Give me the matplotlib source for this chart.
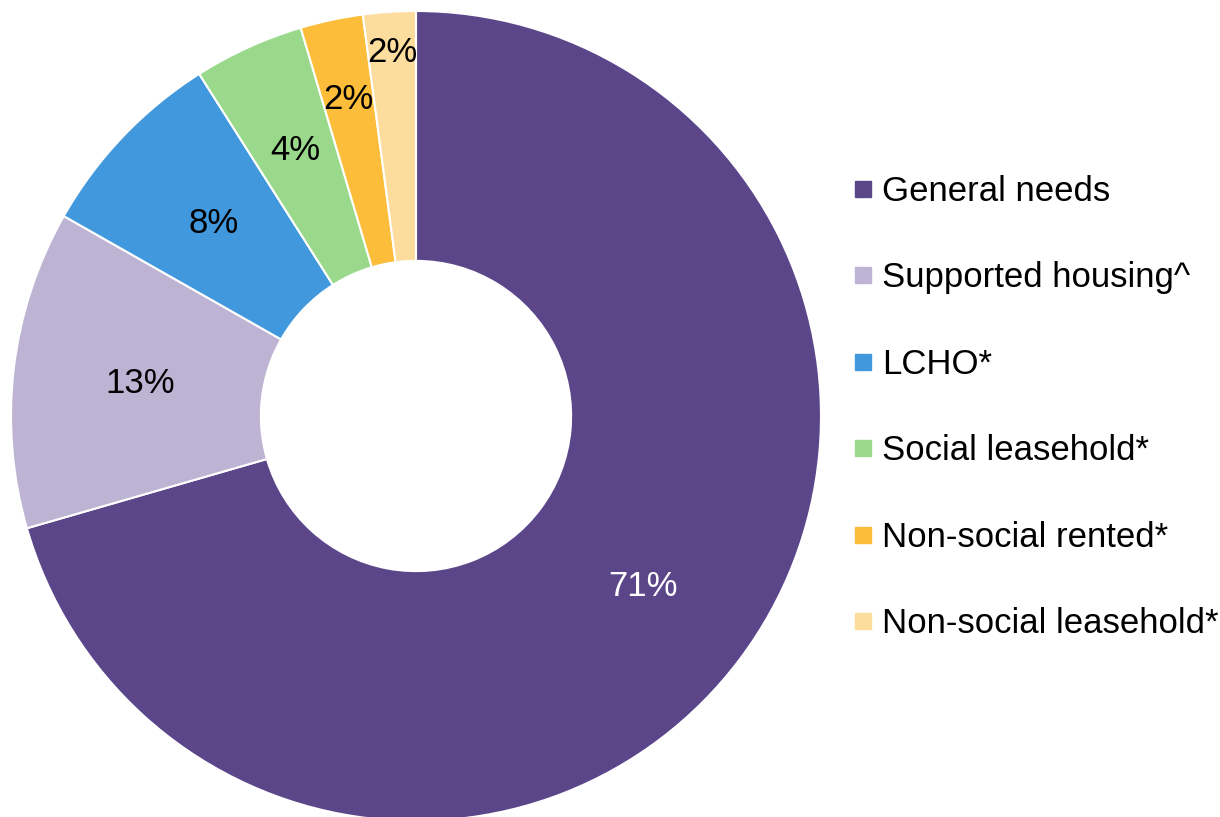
import numpy as np
import matplotlib.pyplot as plt
from matplotlib.lines import Line2D

plt.rcParams['font.family'] = ['Liberation Sans', 'DejaVu Sans']

# data
categories = ['General needs', 'Supported housing^', 'LCHO*', 'Social leasehold*',
              'Non-social rented*', 'Non-social leasehold*']
shares = [70.6, 12.7, 7.8, 4.4, 2.5, 2.1]
pct_labels = ['71%', '13%', '8%', '4%', '2%', '2%']
colors = ['#5B4689', '#BDB3D3', '#4198DC', '#9AD98B', '#FBBD3A', '#FCDD9D']
label_colors = ['white', 'black', 'black', 'black', 'black', 'black']
label_radius = [0.70, 0.685, 0.69, 0.72, 0.80, 0.90]

fig = plt.figure(figsize=(12.2, 8.17), dpi=100)
ax = fig.add_axes([11 / 1220, -4 / 817, 810 / 1220, 810 / 817])

wedges, _ = ax.pie(shares, colors=colors, startangle=90, counterclock=False,
                   radius=1, wedgeprops=dict(width=0.617, edgecolor='white', linewidth=1.5))

# percentage labels
for w, lab, c, r in zip(wedges, pct_labels, label_colors, label_radius):
    ang = np.deg2rad((w.theta1 + w.theta2) / 2)
    ax.text(r * np.cos(ang), r * np.sin(ang), lab, ha='center', va='center',
            fontsize=25, color=c)

ax.set_xlim(-1, 1)
ax.set_ylim(-1, 1)
ax.set_aspect('equal')

handles = [Line2D([], [], marker='s', linestyle='none', markersize=11.5,
                  markerfacecolor=col, markeredgecolor=col) for col in colors]
fig.legend(handles, categories, loc='center left', bbox_to_anchor=(853 / 1220, 0.501),
           frameon=False, fontsize=25, borderpad=0, borderaxespad=0, handlelength=0.55,
           handletextpad=0.28, labelspacing=1.54)

fig.savefig('out.png', dpi=100)
